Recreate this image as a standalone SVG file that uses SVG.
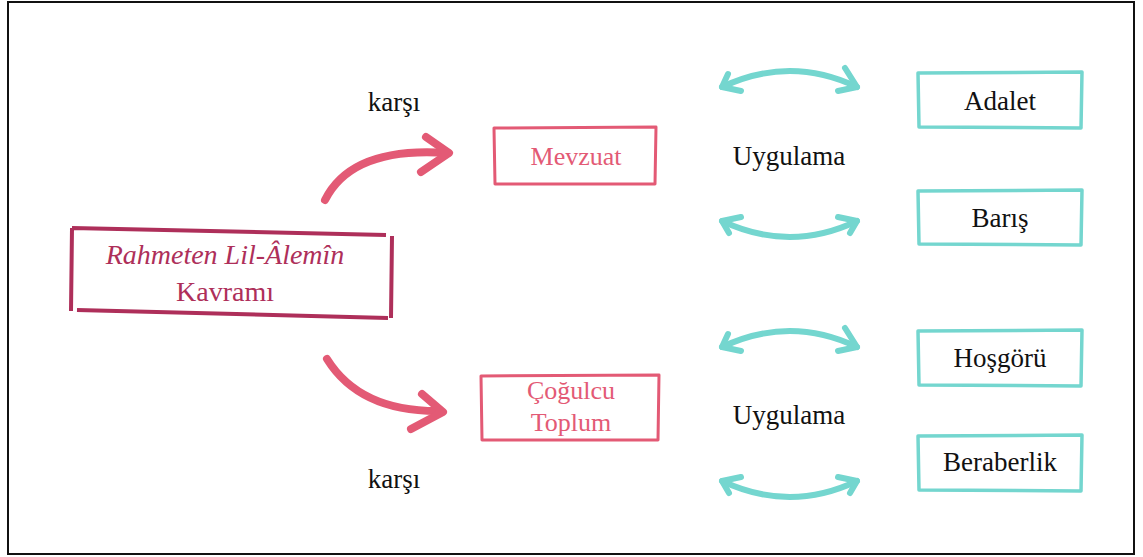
<svg xmlns="http://www.w3.org/2000/svg" width="1143" height="557" viewBox="0 0 1143 557">
<style>
.t{font-family:"Liberation Serif",serif;text-anchor:middle;}
.blk{fill:#111;font-size:27px;}
.pk{fill:#E35A75;font-size:26px;}
.cr{fill:#AE2F5A;font-size:28px;}
.boxP{fill:none;stroke:#E35A75;stroke-width:3;stroke-linejoin:round;}
.boxC{fill:none;stroke:#AE2F5A;stroke-width:4;stroke-linejoin:round;}
.boxT{fill:none;stroke:#74D6CF;stroke-width:3.5;stroke-linejoin:round;}
.arP{fill:none;stroke:#E35A75;stroke-width:8;stroke-linecap:round;stroke-linejoin:round;}
.arT{fill:none;stroke:#74D6CF;stroke-width:6;stroke-linecap:round;stroke-linejoin:round;}
</style>
<rect x="0" y="0" width="1143" height="557" fill="#fff"/>
<rect x="8" y="2" width="1126" height="552" fill="none" stroke="#111" stroke-width="2"/>

<g id="node-rahmeten">
<path class="boxC" d="M72,228 L386,235 M392,236 L391,318 M388,318 L77,310 M71,311 L72,228"/>
<text class="t cr" x="225" y="264" font-style="italic">Rahmeten Lil-Âlemîn</text>
<text class="t cr" x="225" y="301">Kavramı</text>
</g>

<g id="node-mevzuat">
<path class="boxP" d="M494,128 L656,127 L655,184 L495,184 Z"/>
<text class="t pk" x="576" y="165">Mevzuat</text>
</g>

<g id="node-cogulcu">
<path class="boxP" d="M481,376 L659,375 L658,440 L482,440 Z"/>
<text class="t pk" x="571" y="399">Çoğulcu</text>
<text class="t pk" x="571" y="431">Toplum</text>
</g>

<g id="node-adalet">
<path class="boxT" d="M918,73 L1082,72 L1081,128 L919,127 Z"/>
<text class="t blk" x="1000" y="110">Adalet</text>
</g>
<g id="node-baris">
<path class="boxT" d="M918,191 L1082,190 L1081,245 L919,244 Z"/>
<text class="t blk" x="1000" y="227">Barış</text>
</g>
<g id="node-hosgoru">
<path class="boxT" d="M918,331 L1082,330 L1081,386 L919,385 Z"/>
<text class="t blk" x="1000" y="367">Hoşgörü</text>
</g>
<g id="node-beraberlik">
<path class="boxT" d="M918,436 L1082,435 L1081,491 L919,490 Z"/>
<text class="t blk" x="1000" y="471">Beraberlik</text>
</g>

<g id="labels">
<text class="t blk" x="394" y="111" font-size="25">karşı</text>
<text class="t blk" x="394" y="488" font-size="25">karşı</text>
<text class="t blk" x="789" y="165">Uygulama</text>
<text class="t blk" x="789" y="424">Uygulama</text>
</g>

<g id="connectors">
<path class="arP" d="M325,200 Q352,146 448,153"/>
<path class="arP" d="M426,137 L449,153 L421,172"/>
<path class="arP" d="M327,359 Q360,412 440,411"/>
<path class="arP" d="M422,394 L443,412 L411,429"/>

<path class="arT" d="M722,87 Q790,55 857,87"/>
<path class="arT" d="M728,74 L722,87 L741,91"/>
<path class="arT" d="M845,68 L857,87 L838,91"/>

<path class="arT" d="M722,221 Q790,253 857,221"/>
<path class="arT" d="M741,217 L722,221 L729,233"/>
<path class="arT" d="M838,217 L857,221 L850,233"/>

<path class="arT" d="M722,347 Q790,315 857,347"/>
<path class="arT" d="M728,334 L722,347 L741,351"/>
<path class="arT" d="M845,328 L857,347 L838,351"/>

<path class="arT" d="M722,481 Q790,513 857,481"/>
<path class="arT" d="M741,477 L722,481 L729,493"/>
<path class="arT" d="M838,477 L857,481 L850,493"/>
</g>
</svg>
